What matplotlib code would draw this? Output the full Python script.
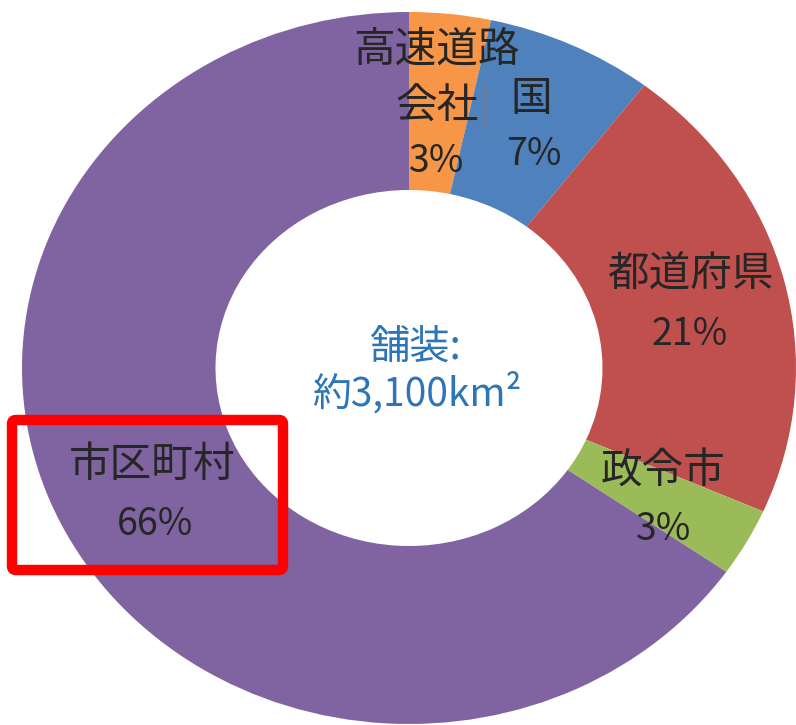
import matplotlib
matplotlib.use("Agg")
import matplotlib.pyplot as plt
from matplotlib.patches import FancyBboxPatch

plt.rcParams['font.family'] = ['Noto Sans CJK JP', 'DejaVu Sans']

categories = ['高速道路\n会社', '国', '都道府県', '政令市', '市区町村']
shares = [3.4, 7.0, 21.2, 3.1, 65.3]
pct_labels = ['3%', '7%', '21%', '3%', '66%']
colors = ['#F79646', '#4F81BD', '#C0504D', '#9BBB59', '#8064A2']

center_title = '舗装:'
center_value = '約3,100km²'

# label anchor positions (axes data units, donut radius = 1)
name_pos = [(0.072, 0.893), (0.315, 0.753), (0.726, 0.261), (0.656, -0.292), (-0.664, -0.275)]
pct_pos = [(0.072, 0.579), (0.323, 0.601), (0.726, 0.093), (0.659, -0.455), (-0.656, -0.441)]

fig = plt.figure(figsize=(7.96, 7.25), dpi=100)
ax = fig.add_axes([22 / 796, 1 / 725, 774 / 796, 712 / 725])

ax.pie(shares, colors=colors, startangle=90, counterclock=False,
       radius=1.0, wedgeprops=dict(width=0.5, linewidth=0))
ax.set_aspect('auto')
ax.set_xlim(-1, 1)
ax.set_ylim(-1, 1)
ax.axis('off')

text_color = '#262626'
line_gap = 0.16
for name, lab, (nx, ny), (px, py) in zip(categories, pct_labels, name_pos, pct_pos):
    for k, part in enumerate(name.split('\n')):
        ax.text(nx, ny - k * line_gap, part, ha='center', va='center',
                fontsize=30, color=text_color)
    ax.text(px, py, lab, ha='center', va='center', fontsize=27,
            color=text_color)

# small tick mark beside 会社
ax.plot([0.196, 0.196], [0.795, 0.674], color='#B07030', lw=1)

ax.text(0.015, 0.059, center_title, ha='center', va='center', fontsize=29,
        color='#2E75B6')
ax.text(0.02, -0.07, center_value, ha='center', va='center', fontsize=28,
        color='#2E75B6')

# red highlight box around 市区町村
box = FancyBboxPatch((12, 725 - 570), 271, 150,
                     boxstyle='round,pad=0,rounding_size=4',
                     transform=None, fill=False, edgecolor='#FF0000',
                     linewidth=7.5)
fig.patches.append(box)

fig.savefig('out.png', dpi=100)
